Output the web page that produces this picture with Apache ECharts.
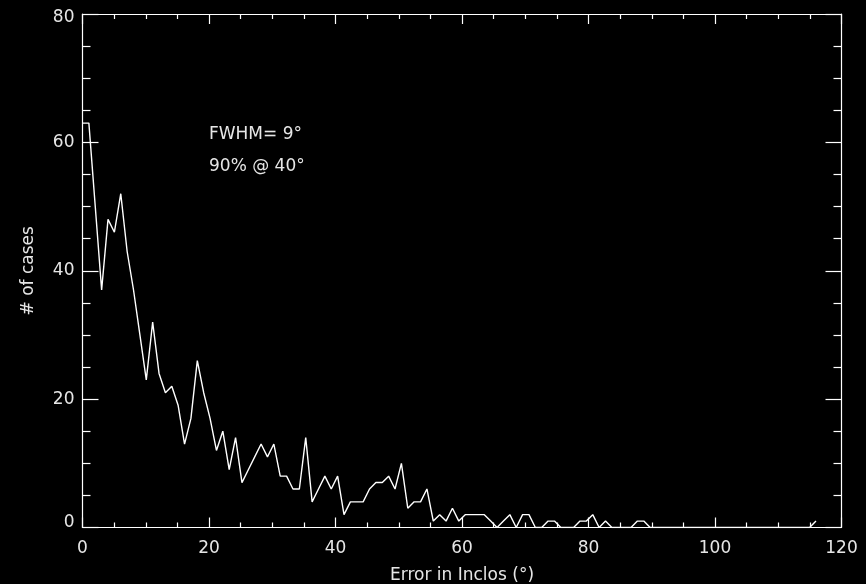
<!DOCTYPE html>
<html>
<head>
<meta charset="utf-8">
<script src="https://cdn.jsdelivr.net/npm/echarts@6/dist/echarts.min.js"></script>
<style>
  html, body { margin: 0; padding: 0; background: #000; }
  #chart { width: 866px; height: 584px; }
</style>
</head>
<body>
<div id="chart"></div>
<script>
// Histogram of inclination errors: number of cases per error bin (degrees)
const binWidth = 120 / 119;
const caseCounts = [
  63, 63, 50, 37, 48, 46, 52, 43, 37, 30,
  23, 32, 24, 21, 22, 19, 13, 17, 26, 21,
  17, 12, 15, 9, 14, 7, 9, 11, 13, 11,
  13, 8, 8, 6, 6, 14, 4, 6, 8, 6,
  8, 2, 4, 4, 4, 6, 7, 7, 8, 6,
  10, 3, 4, 4, 6, 1, 2, 1, 3, 1,
  2, 2, 2, 2, 1, 0, 1, 2, 0, 2,
  2, 0, 0, 1, 1, 0, 0, 0, 1, 1,
  2, 0, 1, 0, 0, 0, 0, 1, 1, 0,
  0, 0, 0, 0, 0, 0, 0, 0, 0, 0,
  0, 0, 0, 0, 0, 0, 0, 0, 0, 0,
  0, 0, 0, 0, 0, 1
];
const xTicks = [0, 20, 40, 60, 80, 100, 120];
const yTicks = [0, 20, 40, 60, 80];
const annotations = ['FWHM= 9°', '90% @ 40°'];

const fg = '#ffffff';
const textColor = '#e6e6e6';
const font = 'DejaVu Sans';

const points = caseCounts.map((v, i) => [i * binWidth, v]);

function axisBase(showLabels, tickLen, minorLen, ticks) {
  return {
    type: 'value',
    min: ticks[0],
    max: ticks[ticks.length - 1],
    interval: ticks[1] - ticks[0],
    axisLine: { show: true, onZero: false, lineStyle: { color: fg, width: 1.2 } },
    axisTick: { show: true, inside: true, length: tickLen, lineStyle: { color: fg, width: 1.2 } },
    minorTick: { show: true, splitNumber: 4, length: minorLen, lineStyle: { color: fg, width: 1.2 } },
    splitLine: { show: false },
    minorSplitLine: { show: false },
    axisLabel: { show: showLabels, color: textColor, fontSize: 17, fontFamily: font }
  };
}

const xBottom = Object.assign(axisBase(true, 10, 5, xTicks), {
  position: 'bottom',
  name: 'Error in Inclos (°)',
  nameLocation: 'middle',
  nameGap: 40,
  nameTextStyle: { color: textColor, fontSize: 17, fontFamily: font }
});
xBottom.axisLabel.margin = 13;
const xTop = Object.assign(axisBase(false, 10, 5, xTicks), { position: 'top' });

const yLeft = Object.assign(axisBase(true, 16, 8, yTicks), {
  position: 'left',
  name: '# of cases',
  nameLocation: 'middle',
  nameGap: 45,
  nameRotate: 90,
  nameTextStyle: { color: textColor, fontSize: 17, fontFamily: font }
});
// end labels sit slightly inside the frame
yLeft.axisLabel.margin = 8;
yLeft.axisLabel.formatter = function (v) {
  if (v === yTicks[0]) return '{lo|' + v + '}';
  if (v === yTicks[yTicks.length - 1]) return '{hi|' + v + '}';
  return String(v);
};
yLeft.axisLabel.rich = {
  lo: { color: textColor, fontSize: 17, fontFamily: font, padding: [0, 0, 9, 0] },
  hi: { color: textColor, fontSize: 17, fontFamily: font, padding: [7, 0, 0, 0] }
};
const yRight = Object.assign(axisBase(false, 16, 8, yTicks), { position: 'right' });

const chart = echarts.init(document.getElementById('chart'));
chart.setOption({
  backgroundColor: '#000',
  animation: false,
  grid: {
    left: 82.5, right: 24.5, top: 14, bottom: 56.5,
    containLabel: false,
    outerBoundsMode: 'none'
  },
  xAxis: [xBottom, xTop],
  yAxis: [yLeft, yRight],
  series: [{
    type: 'line',
    xAxisIndex: 0,
    yAxisIndex: 0,
    data: points,
    symbol: 'none',
    clip: true,
    lineStyle: { color: fg, width: 1.4 }
  }],
  graphic: annotations.map((t, k) => ({
    type: 'text',
    left: 209,
    top: 126 + k * 32.5,
    style: { text: t, fill: textColor, fontSize: 17, fontFamily: font }
  }))
});
</script>
</body>
</html>
